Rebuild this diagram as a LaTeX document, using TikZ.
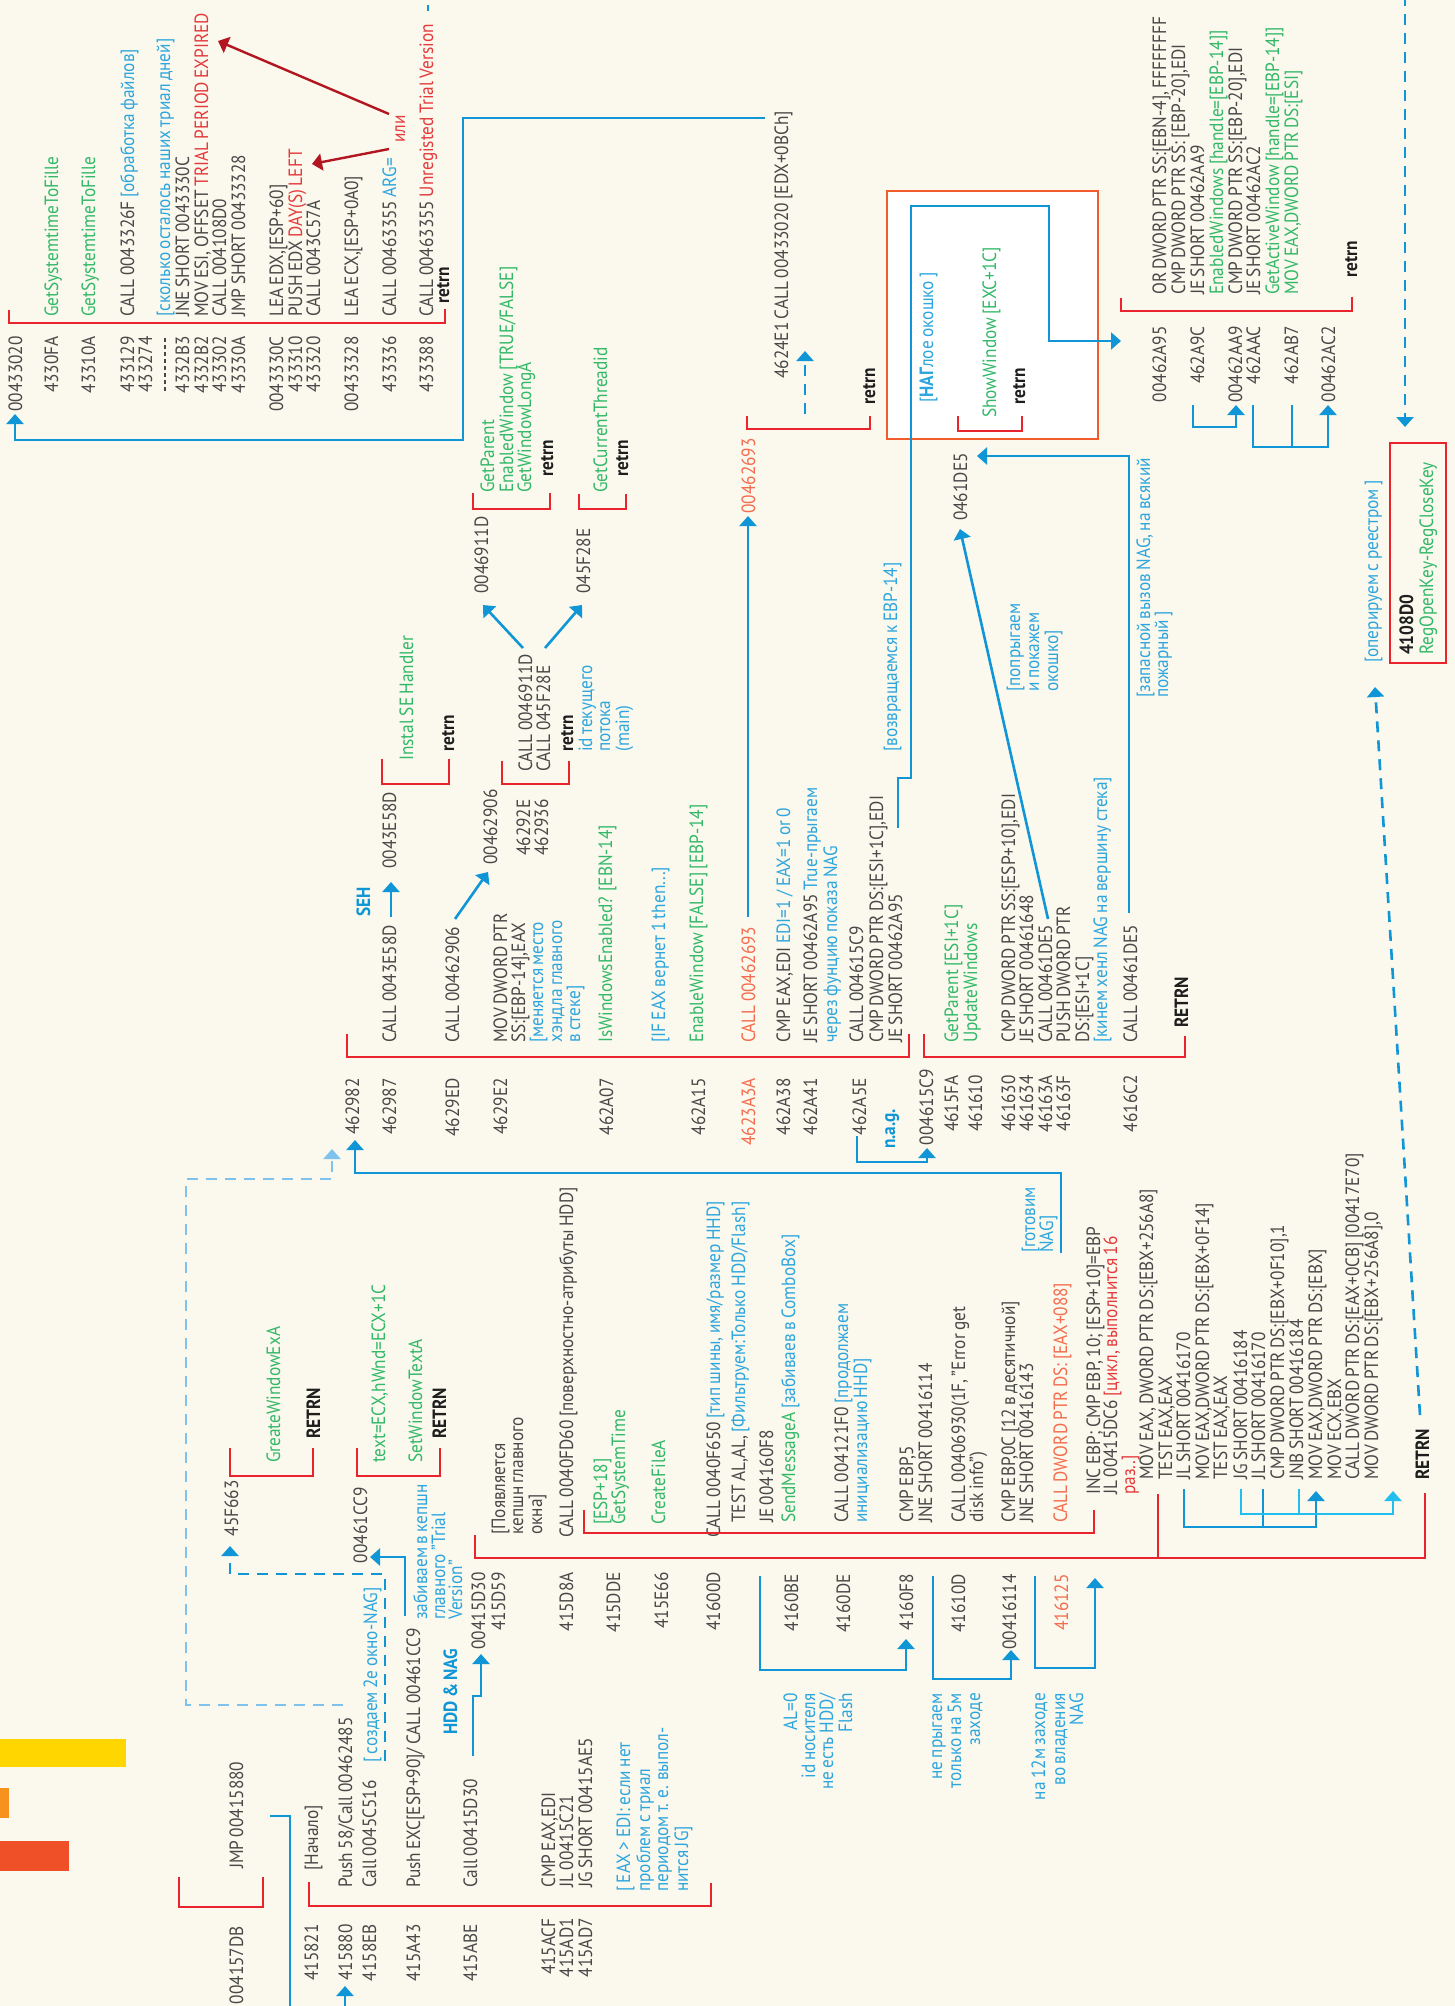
\documentclass[tikz,border=0pt]{standalone}
\usepackage{fontspec}
\setmainfont[FakeStretch=0.9,WordSpace=0.75]{PT Sans}
\usetikzlibrary{arrows.meta}

\definecolor{cbg}{RGB}{251,249,237}
\definecolor{cgray}{RGB}{72,72,72}
\definecolor{cgreen}{RGB}{50,184,104}
\definecolor{cblue}{RGB}{45,165,222}
\definecolor{cline}{RGB}{16,150,215}
\definecolor{clight}{RGB}{125,195,238}
\definecolor{ccyan}{RGB}{35,190,240}
\definecolor{cred}{RGB}{234,36,44}
\definecolor{ctred}{RGB}{228,58,60}
\definecolor{corange}{RGB}{243,108,78}
\definecolor{cdark}{RGB}{178,22,32}
\definecolor{cbox}{RGB}{242,92,44}
\definecolor{cyel}{RGB}{255,214,0}
\definecolor{corg}{RGB}{247,146,30}
\definecolor{cror}{RGB}{240,80,40}
\definecolor{cblack}{RGB}{30,30,30}

\newcommand\fsz{\fontsize{19.2}{20}\selectfont}
\newcommand\colB[1]{\textcolor{cblue}{#1}}
\newcommand\colR[1]{\textcolor{ctred}{#1}}
\newcommand\colG[1]{\textcolor{cgreen}{#1}}
\newcommand\colO[1]{\textcolor{corange}{#1}}

\newcounter{tn}
% rotated listing line, anchored at the start of its baseline
\newcommand\W[3][]{\stepcounter{tn}\node[tw,#1] (t\number\value{tn}) at (#2) {#3};}
% rotated listing line, anchored at the end of its baseline
\newcommand\E[3][]{\stepcounter{tn}\node[te,#1] (t\number\value{tn}) at (#2) {#3};}

\tikzset{
  tx/.style={rotate=90,inner sep=0pt,font=\fsz,text=cgray},
  tw/.style={tx,anchor=base west},
  te/.style={tx,anchor=base east},
  rt/.style={font=\fsz\bfseries,text=cblack},
  bt/.style={font=\fsz\bfseries,text=cline},
  gr/.style={text=cgreen},
  bu/.style={text=cblue},
  org/.style={text=corange},
  rb/.style={draw=cred,line width=2.6pt},
  bl/.style={draw=cline,line width=2.6pt},
  cy/.style={draw=ccyan,line width=2.6pt},
  dsh/.style={dash pattern=on 11pt off 8pt},
  arr/.style={-{Triangle[width=17pt,length=10pt]}},
}

\begin{document}
\begin{tikzpicture}[x=1pt,y=-1pt]
\fill[cbg] (0,0) rectangle (1455,2006);
\useasboundingbox (0,0) rectangle (1455,2006);

% colour bars
\fill[cyel] (0,1739) rectangle (126,1767);
\fill[corg] (0,1788) rectangle (9,1818);
\fill[cror] (0,1841) rectangle (69,1871);

% boxes
\draw[draw=cbox,line width=2pt,fill=white] (887,191) rectangle (1098,439);
\draw[draw=cred,line width=2.6pt] (1390,443) rectangle (1446,663);

% ---------------- 00433020 ----------------
\E{22,336}{00433020}
\E{58,336}{4330FA}
\E{95,336}{43310A}
\E{134,336}{433129}
\E{152,336}{433274}
\E{189,336}{4332B3}
\E{208,336}{4332B2}
\E{226,336}{433302}
\E{245,336}{43330A}
\E{283,336}{0043330C}
\E{302,336}{433310}
\E{320,336}{433320}
\E{358,336}{00433328}
\E{396,336}{433336}
\E{433,336}{433388}
\W[gr]{58,317}{GetSystemtimeToFille}
\W[gr]{95,317}{GetSystemtimeToFille}
\W{134,317}{CALL 0043326F \colB{[обработка файлов]}}
\W[bu]{170,317}{[сколько осталось наших триал дней]}
\W{189,317}{JNE SHORT 0043330C}
\W{208,317}{MOV ESI, OFFSET \colR{TRIAL PERIOD EXPIRED}}
\W{226,317}{CALL 004108D0}
\W{245,317}{JMP SHORT 00433328}
\W{283,317}{LEA EDX,[ESP+60]}
\W{302,317}{PUSH EDX \colR{DAY(S) LEFT}}
\W{320,317}{CALL 0043C57A}
\W{358,317}{LEA ECX,[ESP+0A0]}
\W{396,317}{CALL 00463355 \colB{ARG=}}
\W{433,317}{CALL 00463355 \colR{Unregisted Trial Version}}
\W[rt]{449,304}{retrn}
\W[text=ctred]{405,143}{или}
\draw[cgray,line width=1.2pt,dash pattern=on 4pt off 3pt] (165,338) -- (165,392);
\draw[rb] (9,310) |- (445,323) -- (445,309);
\draw[cdark,line width=2.4pt,arr] (389,114) -- (218,41);
\draw[cdark,line width=2.4pt,arr] (389,149) -- (312,164);
\draw[cline,line width=2pt] (428,5) -- (428,11);

% ---------------- 4624E1 ----------------
\W{788,379}{4624E1 CALL 00433020 [EDX+0BCh]}
\W[rt]{875,405}{retrn}
\E[org]{755,438}{00462693}
\draw[rb] (747,416) |- (870,429) -- (870,416);
\draw[bl,dsh,arr] (805,414) -- (805,351);
\draw[bl,arr] (765,118) -| (463,440) -| (15,414);

% ---------------- NAG window ----------------
\W[bu]{933,403}{[\textbf{НАГ}лое окошко ]}
\W[gr]{996,418}{ShowWindow [EXC+1C]}
\W[rt]{1025,405}{retrn}
\draw[rb] (958,416) |- (1022,431) -- (1022,416);
\E{967,453}{0461DE5}

% ---------------- 00462A95 ----------------
\E{1166,326}{00462A95}
\E{1204,326}{462A9C}
\E{1242,326}{00462AA9}
\E{1260,326}{462AAC}
\E{1298,326}{462AB7}
\E{1335,326}{00462AC2}
\W{1166,295}{OR DWORD PTR SS:[EBN-4], FFFFFFFF}
\W{1185,295}{CMP DWORD PTR SS: [EBP-20],EDI}
\W{1204,295}{JE SHORT 00462AA9}
\W[gr]{1223,295}{EnabledWindows [handle=[EBP-14]]}
\W{1242,295}{CMP DWORD PTR SS:[EBP-20],EDI}
\W{1260,295}{JE SHORT 00462AC2}
\W[gr]{1279,295}{GetActiveWindow [handle=[EBP-14]]}
\W[gr]{1298,295}{MOV EAX,DWORD PTR DS:[ESI]}
\W[rt]{1357,278}{retrn}
\draw[rb] (1121,298) |- (1352,311) -- (1352,297);
\draw[bl,arr] (1193,405) |- (1236,427) -- (1236,405);
\draw[bl,arr] (1253,405) |- (1328,447) -- (1328,405);
\draw[bl] (1292,405) -- (1292,447);

% ---------------- registry ----------------
\draw[bl,dsh,arr] (1405,-5) -- (1405,427);
\W[rt]{1413,655}{4108D0}
\W[gr]{1433,655}{RegOpenKey-RegCloseKey}
\W[bu]{1378,663}{[оперируем с реестром ]}
\W[bu]{1150,698}{[запасной вызов NAG, на всякий}
\W[bu]{1168,698}{пожарный ]}

% ---------------- 462982 ----------------
\W[bt]{370,917}{SEH}
\W{396,1043}{CALL 0043E58D}
\draw[bl,arr] (391,917) -- (391,882);
\W{396,869}{0043E58D}
\W[gr]{413,761}{Instal SE Handler}
\W[rt]{454,752}{retrn}
\draw[rb] (382,759) |- (449,784) -- (449,759);
\W{459,1043}{CALL 00462906}
\draw[bl,arr] (455,919) -- (488,872);
\W{497,865}{00462906}
\W{507,1043}{MOV DWORD PTR}
\W{525,1043}{SS:[EBP-14],EAX}
\W[bu]{543,1043}{[меняется место}
\W[bu]{562,1043}{хэндла главного}
\W[bu]{580,1043}{в стеке]}
\W{530,856}{46292E}
\W{548,856}{462936}
\W{532,772}{CALL 0046911D}
\W{550,772}{CALL 045F28E}
\W[rt]{573,752}{retrn}
\draw[rb] (502,761) |- (569,784) -- (569,761);
\W[bu]{592,752}{id текущего}
\W[bu]{610,752}{потока}
\W[bu]{629,752}{(main)}
\W{488,594}{0046911D}
\W{590,594}{045F28E}
\draw[bl,arr] (523,648) -- (483,605);
\draw[bl,arr] (545,648) -- (582,605);
\W[gr]{494,493}{GetParent}
\W[gr]{513,493}{EnabledWindow [TRUE/FALSE]}
\W[gr]{531,493}{GetWindowLongA}
\W[rt]{553,477}{retrn}
\draw[rb] (473,493) |- (550,509) -- (550,493);
\W[gr]{607,493}{GetCurrentThreadid}
\W[rt]{628,477}{retrn}
\draw[rb] (579,494) |- (626,509) -- (626,494);
\W[gr]{612,1043}{IsWindowsEnabled? [EBN-14]}
\W[bu]{665,1043}{[IF EAX вернет 1 then...]}
\W[gr]{703,1043}{EnableWindow [FALSE] [EBP-14]}
\W[org]{755,1043}{CALL 00462693}
\W{790,1043}{CMP EAX,EDI \colB{EDI=1 / EAX=1 or 0}}
\W{817,1043}{JE SHORT 00462A95 \colB{True-прыгаем}}
\W[bu]{837,1043}{через фунцию показа NAG}
\W{863,1043}{CALL 004615C9}
\W{883,1043}{CMP DWORD PTR DS:[ESI+1C],EDI}
\W{902,1043}{JE SHORT 00462A95}
\W[bu]{897,752}{[возвращаемся к EBP-14]}
\E{359,1078}{462982}
\E{396,1078}{462987}
\E{459,1078}{4629ED}
\E{507,1078}{4629E2}
\E{613,1078}{462A07}
\E{705,1078}{462A15}
\E[org]{755,1078}{4623A3A}
\E{790,1078}{462A38}
\E{817,1078}{462A41}
\E{866,1078}{462A5E}
\W[bt]{895,1149}{n.a.g.}
\draw[bl,arr] (857,1136) |- (927,1162) -- (927,1148);
\E{933,1069}{004615C9}
\draw[rb] (347,1034) |- (909,1057) -- (909,1034);
\draw[bl,arr] (748,917) -- (748,516);
\draw[bl,arr] (898,828) |- (911,778) -- (911,206) -| (1049,341) -- (1121,341);

% ---------------- 004615C9 ----------------
\W[gr]{958,1043}{GetParent [ESI+1C]}
\W[gr]{977,1043}{UpdateWindows}
\W{1015,1043}{CMP DWORD PTR SS:[ESP+10],EDI}
\W{1033,1043}{JE SHORT 00461648}
\W{1052,1043}{CALL 00461DE5}
\W{1070,1043}{PUSH DWORD PTR}
\W{1089,1043}{DS:[ESI+1C]}
\W[bu]{1107,1043}{[кинем хенл NAG на вершину стека]}
\W{1137,1043}{CALL 00461DE5}
\W[rt]{1188,1028}{RETRN}
\W[bu]{1020,692}{[попрыгаем}
\W[bu]{1039,692}{и покажем}
\W[bu]{1058,692}{окошко]}
\E{958,1075}{4615FA}
\E{982,1075}{461610}
\E{1015,1075}{461630}
\E{1033,1075}{461634}
\E{1052,1075}{46163A}
\E{1070,1075}{46163F}
\E{1137,1075}{4616C2}
\draw[rb] (924,1034) |- (1185,1057) -- (1185,1036);
\draw[bl,arr] (1129,913) |- (977,456);
\draw[bl,arr] (1048,919) -- (960,529);

% ---------------- 45F663 / 00461CC9 ----------------
\E{238,1480}{45F663}
\W[gr]{280,1463}{GreateWindowExA}
\W[rt]{320,1439}{RETRN}
\draw[rb] (230,1448) |- (313,1476) -- (313,1448);
\E{367,1487}{00461CC9}
\W[gr]{385,1463}{text=ECX,hWnd=ECX+1C}
\W[gr]{422,1463}{SetWindowTextA}
\W[rt]{446,1439}{RETRN}
\draw[rb] (357,1448) |- (440,1476) -- (440,1448);
\W[bu]{427,1620}{забиваем в кепшн}
\W[bu]{445,1620}{главного "Trial}
\W[bu]{462,1620}{Version"}
\draw[bl,arr] (405,1616) |- (370,1557);
\draw[bl,dsh,arr] (385,1761) |- (230,1574) -- (230,1546);
\draw[clight,line width=2.6pt,dsh,arr] (343,1705) -| (186,1179) -| (332,1149);
\draw[bl,arr] (1061,1253) |- (355,1173) -- (355,1140);

% ---------------- 00415D30 ----------------
\W[bt]{457,1735}{HDD \& NAG}
\draw[bl,arr] (473,1756) |- (481,1696) -- (481,1654);
\E{485,1572}{00415D30}
\E{505,1572}{415D59}
\W{505,1535}{[Появляется}
\W{523,1535}{кепшн главного}
\W{542,1535}{окна]}
\W{573,1538}{CALL 0040FD60 [поверхностно-атрибуты HDD]}
\E{573,1572}{415D8A}
\W[gr]{607,1525}{[ESP+18]}
\W[gr]{625,1525}{GetSystemTime}
\E{620,1572}{415DDE}
\W[gr]{665,1525}{CreateFileA}
\E{668,1572}{415E66}
\W{720,1538}{CALL 0040F650 \colB{[тип шины, имя/размер HHD]}}
\E{720,1572}{41600D}
\W{745,1523}{TEST AL,AL, \colB{[Фильтруем:Только HDD/Flash]}}
\W{773,1523}{JE 004160F8}
\W{795,1523}{\colG{SendMessageA} \colB{[забиваев в ComboBox]}}
\W{848,1523}{CALL 004121F0 \colB{[продолжаем}}
\W[bu]{867,1523}{инициализацию HHD]}
\W{913,1523}{CMP EBP,5}
\W{932,1523}{JNE SHORT 00416114}
\W{965,1523}{CALL 00406930(1F, "Error get}
\W{983,1523}{disk info")}
\W{1015,1523}{CMP EBP,0C [12 в десятичной]}
\W{1033,1523}{JNE SHORT 00416143}
\W[org]{1067,1523}{CALL DWORD PTR DS: [EAX+088]}
\W[bu]{1035,1253}{[готовим}
\W[bu]{1053,1253}{NAG]}
\W{1100,1495}{INC EBP; CMP EBP, 10; [ESP+10]=EBP}
\W{1117,1495}{JL 00415DC6 \colR{[цикл, выполнится 16}}
\W[text=ctred]{1135,1495}{раз..]}
\W{1153,1480}{MOV EAX, DWORD PTR DS:[EBX+256A8]}
\W{1172,1480}{TEST EAX,EAX}
\W{1190,1480}{JL SHORT 00416170}
\W{1209,1480}{MOV EAX,DWORD PTR DS:[EBX+0F14]}
\W{1227,1480}{TEST EAX,EAX}
\W{1247,1480}{JG SHORT 00416184}
\W{1265,1480}{JL SHORT 00416170}
\W{1284,1480}{CMP DWORD PTR DS:[EBX+0F10],1}
\W{1303,1480}{JNB SHORT 00416184}
\W{1322,1480}{MOV EAX,DWORD PTR DS:[EBX]}
\W{1341,1480}{MOV ECX,EBX}
\W{1359,1480}{CALL DWORD PTR DS:[EAX+0CB] [00417E70]}
\W{1378,1480}{MOV DWORD PTR DS:[EBX+256A8],0}
\W[rt]{1429,1480}{RETRN}
\E{798,1574}{4160BE}
\E{850,1574}{4160DE}
\E{913,1574}{4160F8}
\E{965,1574}{41610D}
\E{1016,1574}{00416114}
\E[org]{1068,1574}{416125}
\E[bu]{797,1693}{AL=0}
\E[bu]{815,1693}{id носителя}
\E[bu]{833,1693}{не есть HDD/}
\E[bu]{852,1693}{Flash}
\E[bu]{942,1693}{не прыгаем}
\E[bu]{961,1693}{только на 5м}
\E[bu]{980,1693}{заходе}
\E[bu]{1045,1693}{на 12м заходе}
\E[bu]{1065,1693}{во владения}
\E[bu]{1083,1693}{NAG}
\draw[rb] (475,1535) |- (1425,1558) -- (1425,1493);
\draw[rb] (1158,1494) -- (1158,1558);
\draw[rb] (584,1510) |- (1094,1533) -- (1094,1510);
\draw[bl,arr] (760,1576) |- (906,1670) -- (906,1639);
\draw[bl,arr] (933,1576) |- (1011,1679) -- (1011,1650);
\draw[bl,arr] (1035,1576) |- (1095,1668) -- (1095,1578);
\draw[bl,arr] (1184,1489) |- (1316,1527) -- (1316,1491);
\draw[bl] (1263,1489) -- (1263,1527);
\draw[cy,arr] (1241,1489) |- (1393,1514) -- (1393,1491);
\draw[cy] (1299,1489) -- (1299,1514);
\draw[bl,dsh,arr] (1420,1415) -- (1375,687);

% ---------------- entry ----------------
\E{243,1926}{004157DB}
\W{243,1869}{JMP 00415880}
\draw[rb] (179,1877) |- (263,1907) -- (263,1877);
\draw[bl] (270,1816) -| (290,2010);
\W{318,1871}{[Начало]}
\E{318,1924}{415821}
\W{352,1888}{Push 58/Call 00462485}
\E{352,1924}{415880}
\draw[bl,arr] (345,2010) -- (345,1986);
\W[bu]{377,1763}{[ создаем 2е окно-NAG]}
\W{376,1888}{Call 0045C516}
\E{376,1924}{4158EB}
\W{420,1888}{Push EXC[ESP+90]/ CALL 00461CC9}
\E{420,1924}{415A43}
\W{477,1888}{Call 00415D30}
\E{477,1924}{415ABE}
\W{555,1888}{CMP EAX,EDI}
\W{573,1888}{JL 00415C21}
\W{592,1888}{JG SHORT 00415AE5}
\E{555,1918}{415ACF}
\E{573,1918}{415AD1}
\E{592,1918}{415AD7}
\W[bu]{630,1892}{[ EAX > EDI: если нет}
\W[bu]{650,1892}{проблем с триал}
\W[bu]{668,1892}{периодом т. е. выпол-}
\W[bu]{688,1892}{нится JG]}
\draw[rb] (309,1882) |- (711,1906) -- (711,1883);
\end{tikzpicture}
\end{document}
